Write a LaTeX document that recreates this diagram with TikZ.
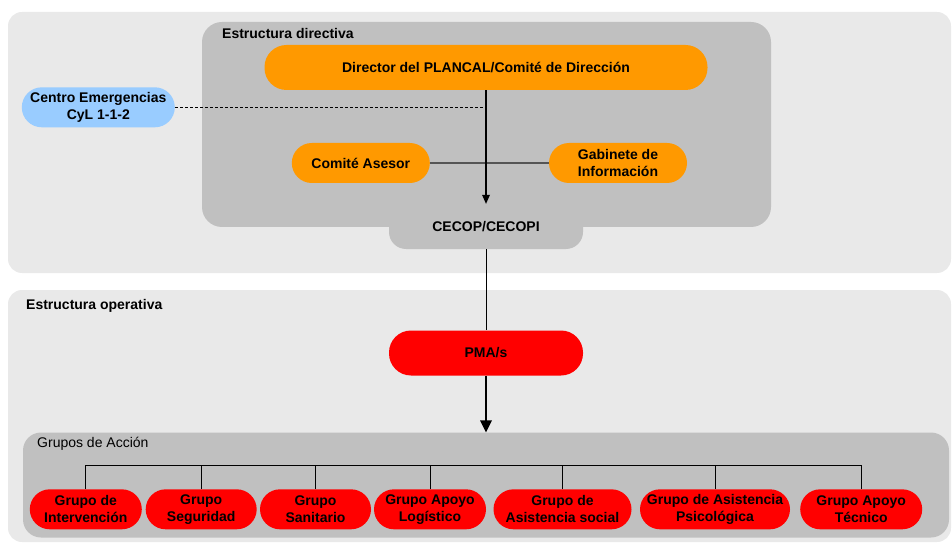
\documentclass[tikz,border=0pt]{standalone}
\usepackage{fontspec}
\setmainfont{Liberation Sans}
\definecolor{panellight}{HTML}{E9E9E9}
\definecolor{paneldark}{HTML}{C0C0C0}
\definecolor{orangefill}{HTML}{FF9900}
\definecolor{bluefill}{HTML}{99CCFF}
\definecolor{redfill}{HTML}{FF0000}
\definecolor{linkgray}{HTML}{555555}
\begin{document}
\begin{tikzpicture}[x=1pt,y=-1pt]
\tikzstyle{every node}+=[inner sep=0pt, align=center, font=\fontsize{14}{17}\selectfont\bfseries]
\tikzstyle{pill}=[rounded corners=20pt, minimum height=40pt]
\tikzstyle{bigpill}=[rounded corners=22pt, minimum height=45pt]
\useasboundingbox (0,0) rectangle (952,545);
\fill [panellight, rounded corners=14pt] (8,12) rectangle (951,273);
\fill [panellight, rounded corners=14pt] (8,290) rectangle (951,542);
\fill [paneldark, rounded corners=20pt] (202,22) rectangle (771,227);
\draw (222,33) node [anchor=west] {Estructura directiva};
\draw (26,306) node [anchor=west] {Estructura operativa};
\node [fill=paneldark, rounded corners=17pt, minimum width=194pt, minimum height=45pt] (cecop) at (486,226.5) {CECOP/CECOPI};
\node [bigpill, fill=orangefill, minimum width=443pt] (director) at (486,67.5) {Director del PLANCAL/Comité de Dirección};
\node [pill, fill=bluefill, minimum width=153pt] (centro) at (98.3,107.3) {Centro Emergencias\\CyL 1-1-2};
\node [pill, fill=orangefill, minimum width=138pt] (comite) at (360.8,163) {Comité Asesor};
\node [pill, fill=orangefill, minimum width=138pt] (gabinete) at (618,163) {Gabinete de\\Información};
\draw [linkgray, line width=1.3pt] (comite) -- (gabinete);
\draw [black, line width=0.8pt, dash pattern=on 3pt off 2pt] (centro) -- (centro -| director);
\draw [black, line width=2pt, shorten >=8pt] (director) -- (cecop);
\fill [black] (cecop.north) -- ++(-4,-9) -- ++(8,0) -- cycle;
\node [bigpill, fill=redfill, minimum width=194pt] (pma) at (486,353) {PMA/s};
\draw [black, line width=0.8pt] (cecop) -- (pma);
\node [fill=paneldark, rounded corners=18pt, minimum width=926pt, minimum height=105pt] (grupos) at (486,485) {};
\draw (37,444) node [anchor=west, font=\fontsize{14}{17}\selectfont] {Grupos de Acción};
\draw [black, line width=2pt, shorten >=10pt] (pma) -- (grupos);
\fill [black] (grupos.north) -- ++(-6,-12) -- ++(12,0) -- cycle;
\node [pill, fill=redfill, minimum width=112pt] (intervencion) at (85.8,509.3) {Grupo de\\Intervención};
\node [pill, fill=redfill, minimum width=111pt] (seguridad) at (201.2,509.3) {Grupo\\Seguridad};
\node [pill, fill=redfill, minimum width=111pt] (sanitario) at (315.5,509.3) {Grupo\\Sanitario};
\node [pill, fill=redfill, minimum width=112pt] (logistico) at (430,509.3) {Grupo Apoyo\\Logístico};
\node [pill, fill=redfill, minimum width=138pt] (social) at (562.5,509.3) {Grupo de\\Asistencia social};
\node [pill, fill=redfill, minimum width=150pt] (psicologica) at (715,509.3) {Grupo de Asistencia\\Psicológica};
\node [pill, fill=redfill, minimum width=122pt] (tecnico) at (861.2,509.3) {Grupo Apoyo\\Técnico};
\coordinate (bus) at (486,465);
\draw [black, line width=1pt] (intervencion.north) |- (tecnico.north |- bus) -- (tecnico.north);
\draw [black, line width=1pt] (seguridad.north) -- (seguridad.north |- bus);
\draw [black, line width=1pt] (sanitario.north) -- (sanitario.north |- bus);
\draw [black, line width=1pt] (logistico.north) -- (logistico.north |- bus);
\draw [black, line width=1pt] (social.north) -- (social.north |- bus);
\draw [black, line width=1pt] (psicologica.north) -- (psicologica.north |- bus);
\end{tikzpicture}
\end{document}
